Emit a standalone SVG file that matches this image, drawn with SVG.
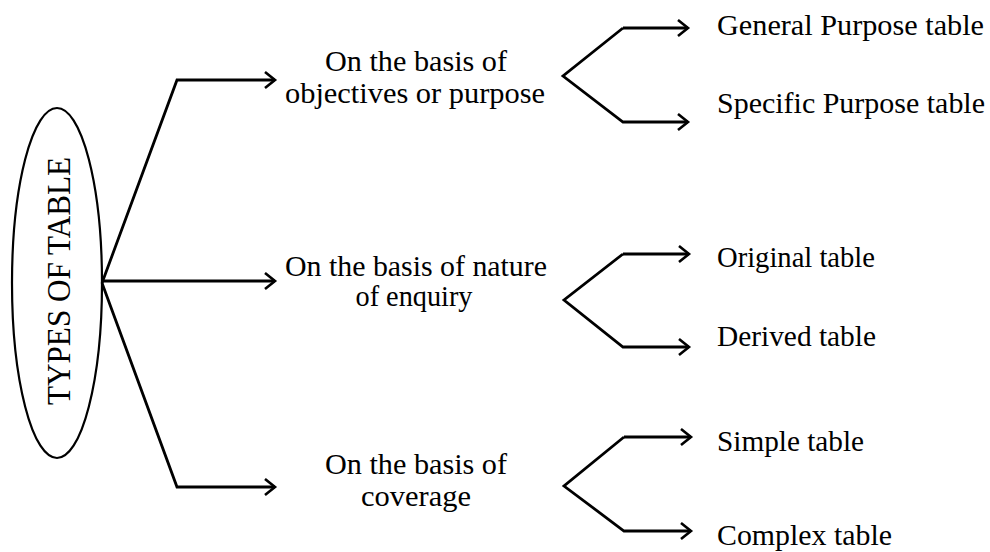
<svg xmlns="http://www.w3.org/2000/svg" width="990" height="552" viewBox="0 0 990 552">
  <defs>
    <marker id="head" markerWidth="14" markerHeight="20" refX="11" refY="9" orient="auto" markerUnits="userSpaceOnUse">
      <path d="M1,1 L11,9 L1,17" fill="none" stroke="#000" stroke-width="2.6"/>
    </marker>
    <style>
      .ln { fill: none; stroke: #000; stroke-width: 2.8; stroke-linejoin: miter; }
      .arr { marker-end: url(#head); }
      .lbl { font-size: 30px; fill: #000; }
      .mid { text-anchor: middle; }
    </style>
  </defs>
  <rect width="990" height="552" fill="#fff"/>

  <g font-family="'Liberation Serif', 'Times New Roman', 'DejaVu Serif', serif">
    <g id="root">
      <ellipse cx="57" cy="283" rx="45" ry="175" fill="none" stroke="#000" stroke-width="2.2"/>
      <text class="lbl mid" transform="translate(70,281) rotate(-90)" style="font-size:33px" textLength="248" lengthAdjust="spacingAndGlyphs">TYPES OF TABLE</text>
    </g>

    <g id="objectives">
      <text class="lbl mid" x="416" y="71" textLength="182" lengthAdjust="spacingAndGlyphs">On the basis of</text>
      <text class="lbl mid" x="415" y="103" textLength="260" lengthAdjust="spacingAndGlyphs">objectives or purpose</text>
    </g>
    <g id="enquiry">
      <text class="lbl mid" x="416" y="276" textLength="262" lengthAdjust="spacingAndGlyphs">On the basis of nature</text>
      <text class="lbl mid" x="414" y="306" textLength="117" lengthAdjust="spacingAndGlyphs">of enquiry</text>
    </g>
    <g id="coverage">
      <text class="lbl mid" x="416" y="474" textLength="182" lengthAdjust="spacingAndGlyphs">On the basis of</text>
      <text class="lbl mid" x="416" y="506" textLength="110" lengthAdjust="spacingAndGlyphs">coverage</text>
    </g>

    <g id="general"><text class="lbl" x="717" y="35" textLength="267" lengthAdjust="spacingAndGlyphs">General Purpose table</text></g>
    <g id="specific"><text class="lbl" x="717" y="113" textLength="268" lengthAdjust="spacingAndGlyphs">Specific Purpose table</text></g>
    <g id="original"><text class="lbl" x="717" y="267" textLength="158" lengthAdjust="spacingAndGlyphs">Original table</text></g>
    <g id="derived"><text class="lbl" x="717" y="346" textLength="159" lengthAdjust="spacingAndGlyphs">Derived table</text></g>
    <g id="simple"><text class="lbl" x="717" y="451" textLength="147" lengthAdjust="spacingAndGlyphs">Simple table</text></g>
    <g id="complex"><text class="lbl" x="717" y="545" textLength="175" lengthAdjust="spacingAndGlyphs">Complex table</text></g>
  </g>

  <g id="connectors">
    <!-- main fork from the ellipse -->
    <path class="ln arr" d="M102,283 L177,80 L275,80"/>
    <path class="ln arr" d="M102,281 L275,281"/>
    <path class="ln arr" d="M102,283 L177,487 L275,487"/>
    <!-- objectives fork -->
    <path class="ln arr" d="M623,28 L563,76 L623,122 L688,122"/>
    <path class="ln arr" d="M623,28 L688,28"/>
    <!-- enquiry fork -->
    <path class="ln arr" d="M623,254 L564,300 L623,347 L689,347"/>
    <path class="ln arr" d="M623,254 L689,254"/>
    <!-- coverage fork -->
    <path class="ln arr" d="M624,437 L564,486 L624,531 L691,531"/>
    <path class="ln arr" d="M624,437 L691,437"/>
  </g>
</svg>
